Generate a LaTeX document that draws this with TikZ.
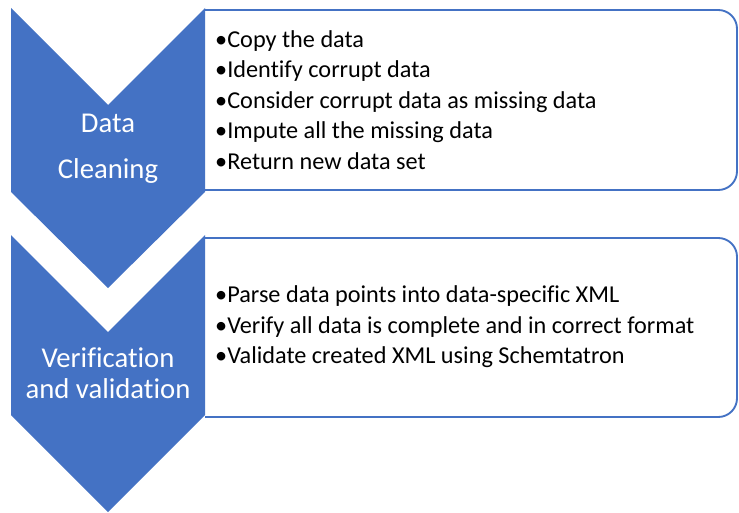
\documentclass[tikz,border=0pt]{standalone}
\usepackage{fontspec}
\setmainfont[Ligatures=NoCommon]{Carlito}
\usepackage{tikz}
\usetikzlibrary{positioning,calc}
\definecolor{chevblue}{HTML}{4472C4}

\begin{document}
\begin{tikzpicture}[
  x=0.03cm, y=-0.03cm,
  chev/.style ={fill=chevblue, draw=none},
  panel/.style={draw=chevblue, line width=1.6pt, fill=white, rounded corners=16},
  label/.style={text=white, align=center, inner sep=0pt},
  items/.style={text=black, align=left, anchor=west, inner sep=0pt,
                font=\fontsize{20.7}{26}\selectfont}]
\useasboundingbox (0,0) rectangle (739,513);

%% white panels with rounded right side, the chevron covers the left side
\draw[panel] (205,10) -- (737,10) -- (737,190) [sharp corners] -- (205,190);
\draw[panel] (205,238) -- (737,238) -- (737,417) [sharp corners] -- (205,417);

%% chevrons
\fill[chev] (11,8) -- (108,105) -- (205,8) -- (205,192) -- (108,288) -- (11,192) -- cycle;
\fill[chev] (11,235) -- (108,332) -- (205,235) -- (205,415) -- (108,512) -- (11,415) -- cycle;

\node[label, font=\fontsize{24.5}{39}\selectfont] (clean) at (108,149) {Data\\Cleaning};
\node[label, font=\fontsize{24.5}{26}\selectfont] (verif) at (108,373) {Verification\\and validation};

\node[items] (cleanitems) at (215,100)
  {•Copy the data\\•Identify corrupt data\\•Consider corrupt data as missing data\\•Impute all the missing data\\•Return new data set};
\node[items] (verifitems) at (215,327)
  {•Parse data points into data-specific XML\\•Verify all data is complete and in correct format\\•Validate created XML using Schemtatron};
\end{tikzpicture}
\end{document}
